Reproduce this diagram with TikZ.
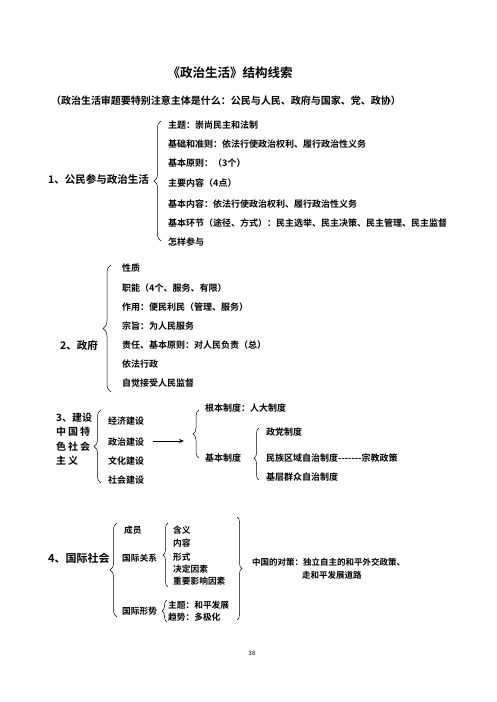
\documentclass[tikz,border=0pt]{standalone}
\usepackage{fontspec}
\setmainfont{Noto Sans CJK SC}[BoldFont={Noto Sans CJK SC Bold}]
\usetikzlibrary{decorations.pathreplacing,arrows.meta}
\begin{document}
\begin{tikzpicture}[x=1pt,y=-1pt,
  every node/.style={inner sep=0pt},
  txt/.style={anchor=west, font=\bfseries\fontsize{9}{11}\selectfont},
  big/.style={anchor=west, font=\bfseries\fontsize{10.5}{13}\selectfont},
  br/.style={decorate, decoration={brace, amplitude=#1}, line width=0.5pt},
  br/.default=6pt]
\useasboundingbox (0,0) rectangle (496,702);
% title
\node[font=\bfseries\fontsize{12.5}{15}\selectfont] (title) at (230,73) {《政治生活》结构线索};
\node[font=\bfseries\fontsize{10}{12}\selectfont] (sub) at (226,101) {（政治生活审题要特别注意主体是什么：公民与人民、政府与国家、党、政协）};
% section 1
\node[big] (s1) at (48,179) {1、公民参与政治生活};
\draw[br=7pt] (161,241) -- (161,121);
\node[txt] (a1) at (168,125) {主题：崇尚民主和法制};
\node[txt] (a2) at (168,144) {基础和准则：依法行使政治权利、履行政治性义务};
\node[txt] (a3) at (168,163) {基本原则：（3个）};
\node[txt] (a4) at (168,183) {主要内容（4点）};
\node[txt] (a5) at (168,204) {基本内容：依法行使政治权利、履行政治性义务};
\node[txt] (a6) at (168,223) {基本环节（途径、方式）：民主选举、民主决策、民主管理、民主监督};
\node[txt] (a7) at (168,242) {怎样参与};
% section 2
\node[big] (s2) at (60,345) {2、政府};
\draw[br=8pt] (111,392) -- (111,265);
\node[txt] (b1) at (122,268) {性质};
\node[txt] (b2) at (122,288) {职能（4个、服务、有限）};
\node[txt] (b3) at (122,307) {作用：便民利民（管理、服务）};
\node[txt] (b4) at (122,326) {宗旨：为人民服务};
\node[txt] (b5) at (122,345) {责任、基本原则：对人民负责（总）};
\node[txt] (b6) at (122,364) {依法行政};
\node[txt] (b7) at (122,383) {自觉接受人民监督};
% section 3
\node[anchor=north west, align=left, font=\bfseries\fontsize{10}{14.3}\selectfont] (s3) at (56,413)
  {3、建设\\中\kern2pt 国\kern2pt 特\\色\kern2pt 社\kern2pt 会\\主\kern2pt 义};
\draw[br=7pt] (101,483) -- (101,410);
\node[txt] (c1) at (108,421) {经济建设};
\node[txt] (c2) at (108,442) {政治建设};
\node[txt] (c3) at (108,461) {文化建设};
\node[txt] (c4) at (108,480) {社会建设};
\coordinate (arA) at (153,441);
\coordinate (arB) at (184,441);
\draw[-{Stealth[length=5pt,width=4pt]}, line width=0.6pt] (arA) -- (arB);
\draw[br=6pt] (199,458) -- (199,410);
\node[txt] (d1) at (205,408) {根本制度：人大制度};
\node[txt] (d2) at (205,458) {基本制度};
\draw[decorate, decoration={brace, amplitude=5pt, aspect=0.42}, line width=0.5pt] (259,480) -- (259,428);
\node[txt] (e1) at (266,432) {政党制度};
\node[txt] (e2) at (266,458) {民族区域自治制度{-}{-}{-}{-}{-}{-}{-}宗教政策};
\node[txt] (e3) at (266,477) {基层群众自治制度};
% section 4
\node[anchor=west, font=\bfseries\fontsize{11}{13}\selectfont] (s4) at (48,558) {4、国际社会};
\draw[br=7pt] (117,617) -- (117,523);
\node[txt, font=\bfseries\fontsize{8.7}{10}\selectfont] (f1) at (124,530) {成员};
\node[txt, font=\bfseries\fontsize{8.7}{10}\selectfont] (f2) at (122,558) {国际关系};
\node[txt, font=\bfseries\fontsize{8.7}{10}\selectfont] (f3) at (122,611) {国际形势};
\draw[br=5pt] (168,587) -- (168,523);
\node[txt, font=\bfseries\fontsize{8.7}{10}\selectfont] (g1) at (173,530) {含义};
\node[txt, font=\bfseries\fontsize{8.7}{10}\selectfont] (g2) at (173,543) {内容};
\node[txt, font=\bfseries\fontsize{8.7}{10}\selectfont] (g3) at (173,557) {形式};
\node[txt, font=\bfseries\fontsize{8.7}{10}\selectfont] (g4) at (173,569) {决定因素};
\node[txt, font=\bfseries\fontsize{8.7}{10}\selectfont] (g5) at (173,581) {重要影响因素};
\draw[br=5pt] (167,622) -- (167,600);
\node[txt, font=\bfseries\fontsize{8.7}{10}\selectfont] (h1) at (168,605) {主题：和平发展};
\node[txt, font=\bfseries\fontsize{8.7}{10}\selectfont] (h2) at (168,617) {趋势：多极化};
\draw[br=5pt] (237,517) -- (237,620);
\node[txt, font=\bfseries\fontsize{8.5}{10}\selectfont] (k1) at (252,562) {中国的对策：独立自主的和平外交政策、};
\node[txt, font=\bfseries\fontsize{8.5}{10}\selectfont] (k2) at (302,575) {走和平发展道路};
% page number
\node[font=\fontsize{6}{7}\selectfont] (pg) at (252,653) {38};
\end{tikzpicture}
\end{document}
